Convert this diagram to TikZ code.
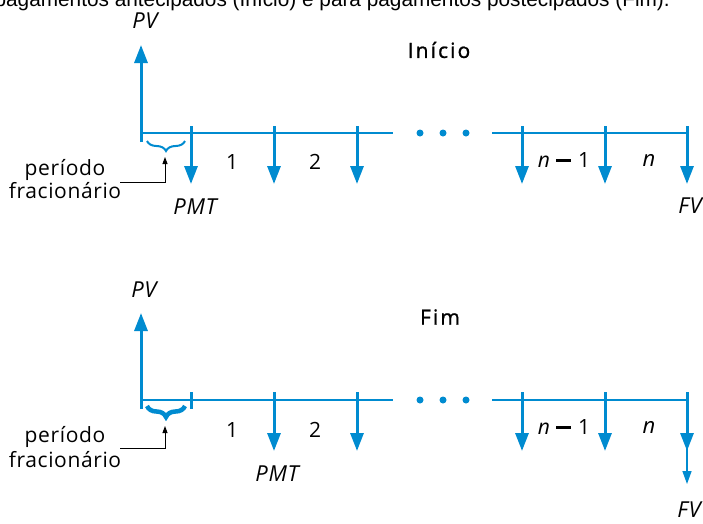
\documentclass[tikz,border=0pt]{standalone}
\usepackage{fontspec}
\setmainfont[LetterSpace=3]{Open Sans}
\newfontfamily\headfont{Liberation Sans}
\newfontfamily\medfont[FakeBold=1,LetterSpace=10]{Open Sans}
\usetikzlibrary{arrows.meta,decorations.pathreplacing}
\definecolor{hpblue}{RGB}{0,139,208}
\newcommand{\nminus}{{\itshape n}\hspace{6pt}\rule[5.5pt]{15pt}{2.6pt}\hspace{7pt}1}
\begin{document}
\begin{tikzpicture}[x=1pt,y=-1pt,
  tline/.style={draw=hpblue,line width=2pt},
  flow/.style={draw=hpblue,line width=3pt,-{Triangle[width=13pt,length=18pt]}},
  thinflow/.style={draw=hpblue,line width=1.5pt,-{Triangle[width=9pt,length=13pt]}},
  tick/.style={draw=hpblue,line width=3pt},
  dotnode/.style={circle,fill=hpblue,inner sep=0pt,minimum size=7pt},
  lbl/.style={inner sep=0pt,font=\fontsize{21}{24}\selectfont},
  ital/.style={inner sep=0pt,font=\fontsize{22}{25}\selectfont\itshape},
  ttl/.style={inner sep=0pt,font=\fontsize{21}{24}\medfont},
  note/.style={draw=black,line width=0.9pt,-{Triangle[width=5pt,length=7pt]}},
  lbrace/.style={draw=hpblue,line width=2pt,decorate,decoration={brace,amplitude=10pt}},
  hbrace/.style={draw=hpblue,line width=4.5pt,decorate,decoration={brace,amplitude=11pt}}
]
\useasboundingbox (0,0) rectangle (703,523);
\begin{scope}
\clip (0,0) rectangle (703,523);
\node[anchor=base east,inner sep=0pt,font=\headfont\fontsize{20.8}{24}\selectfont] (head) at (670,6) {pagamentos antecipados (Início) e para pagamentos postecipados (Fim).};
\end{scope}

% ===== Top: Início =====
\node[ital] (pv1) at (145,21) {PV};
\node[ttl] (ini) at (439,50) {Início};
\coordinate (t1a) at (141,133); \coordinate (t1b) at (393,133);
\coordinate (t1c) at (492,133); \coordinate (t1d) at (688,133);
\draw[tline] (t1a) -- (t1b);
\draw[tline] (t1c) -- (t1d);
\coordinate (pv1s) at (141,142); \coordinate (pv1e) at (141,45);
\draw[flow] (pv1s) -- (pv1e);
\node[dotnode] (d11) at (420,133) {};
\node[dotnode] (d12) at (443,133) {};
\node[dotnode] (d13) at (466,133) {};
\foreach \x [count=\i] in {191,274,357,522,605,687}{
  \coordinate (u\i s) at (\x,126); \coordinate (u\i e) at (\x,184);
  \draw[flow] (u\i s) -- (u\i e);
}
\node[lbl] (n11) at (232,162) {1};
\node[lbl] (n12) at (315,162) {2};
\node[lbl] (n13) at (564,160) {\nminus};
\node[ital] (n14) at (649,160) {n};
\node[ital] (pmt1) at (195,207) {PMT};
\node[ital] (fv1) at (690,206) {FV};
\coordinate (b1a) at (185,141); \coordinate (b1b) at (147,141);
\draw[lbrace] (b1a) -- (b1b);
\coordinate (k1a) at (120,182); \coordinate (k1b) at (165,182); \coordinate (k1c) at (165,157);
\draw[note] (k1a) -- (k1b) -- (k1c);
\node[lbl] (per1) at (65,170) {período};
\node[lbl] (fra1) at (65,191) {fracionário};

% ===== Bottom: Fim =====
\node[ital] (pv2) at (144,290) {PV};
\node[ttl] (fim) at (440,317) {Fim};
\coordinate (t2a) at (141,400); \coordinate (t2b) at (393,400);
\coordinate (t2c) at (492,400); \coordinate (t2d) at (688,400);
\draw[tline] (t2a) -- (t2b);
\draw[tline] (t2c) -- (t2d);
\coordinate (pv2s) at (141,409); \coordinate (pv2e) at (141,313);
\draw[flow] (pv2s) -- (pv2e);
\node[dotnode] (d21) at (420,400) {};
\node[dotnode] (d22) at (443,400) {};
\node[dotnode] (d23) at (466,400) {};
\coordinate (tk2a) at (191,392); \coordinate (tk2b) at (191,409);
\draw[tick] (tk2a) -- (tk2b);
\foreach \x [count=\i] in {274,357,522,605,687}{
  \coordinate (w\i s) at (\x,392); \coordinate (w\i e) at (\x,451);
  \draw[flow] (w\i s) -- (w\i e);
}
\coordinate (fvx) at (687,446); \coordinate (fvy) at (687,484);
\draw[thinflow] (fvx) -- (fvy);
\node[lbl] (n21) at (232,430) {1};
\node[lbl] (n22) at (315,430) {2};
\node[lbl] (n23) at (564,427) {\nminus};
\node[ital] (n24) at (649,427) {n};
\node[ital] (pmt2) at (277,474) {PMT};
\node[ital] (fv2) at (689,510) {FV};
\coordinate (b2a) at (185,406); \coordinate (b2b) at (147,406);
\draw[hbrace] (b2a) -- (b2b);
\coordinate (k2a) at (120,448); \coordinate (k2b) at (165,448); \coordinate (k2c) at (165,426);
\draw[note] (k2a) -- (k2b) -- (k2c);
\node[lbl] (per2) at (65,437) {período};
\node[lbl] (fra2) at (65,460) {fracionário};
\end{tikzpicture}
\end{document}
